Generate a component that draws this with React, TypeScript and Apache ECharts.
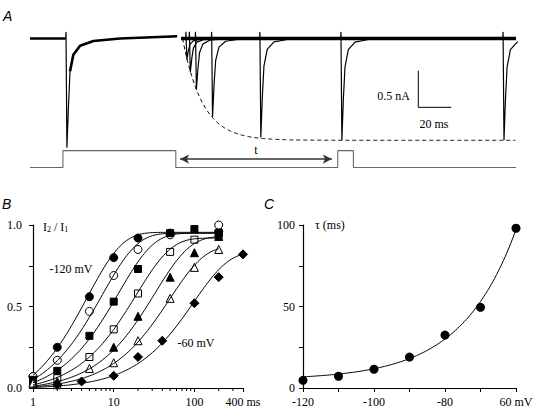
import React, { useEffect, useRef } from 'react';
import * as echarts from 'echarts';

// ---------- Panel A: current traces (ms, nA) and command voltage (ms, mV) ----------
const traceEndMs = 295;
const trace1SpikeMs = 21.9;
const trace1PeakNa = -1.49;
const trace1EndMs = 89.3;
const trace1EndNa = 0.03;
const seg2StartMs = 91.7;
const spikeTimesMs = [94.7, 96.8, 100.5, 110.3, 139.6, 188.8, 287.2];
const spikePeaksNa = [-0.29, -0.46, -0.7, -1.07, -1.35, -1.39, -1.39];
const spikeProfileMs = [0.5, 1.4, 2.4, 4.4, 8.5, 16.6, 32.8];
const spikeProfileFrac = [1, 0.64, 0.3, 0.15, 0.066, 0.023, 0];
const testSpikeProfileFrac = [1, 0.6, 0.28, 0.11, 0.035, 0.01, 0];
const artifactNa = 0.09;
const envelopeT0Ms = 92.6;
const envelopeAmpNa = -1.39;
const envelopeTauMs = 12.1;
const cmdTimesMs = [0, 20, 20, 88.5, 88.5, 186.8, 186.8, 196.3, 196.3, 295];
const cmdLevelsMv = [-100, -100, 0, 0, -100, -100, 0, 0, -100, -100];
const arrowMs = [91.1, 183.2];
const arrowMv = -50;
const scaleBarMs = 235.7;
const scaleBarNa = -0.44;
const scaleBarDtMs = 20;
const scaleBarDiNa = 0.5;

// ---------- Panel B: recovery I2/I1 vs interval ----------
const intervalsMs = [1, 2, 5, 10, 20, 50, 100, 200];
const rel120 = [0.07, 0.25, 0.56, 0.8, 0.92, 0.95, null, 0.96];
const rel110 = [0.07, 0.17, 0.47, 0.69, 0.85, 0.94, null, 1.0];
const rel100 = [0.05, 0.105, 0.32, 0.53, 0.73, 0.95, 0.975, 0.95];
const rel90 = [0.04, 0.06, 0.19, 0.36, 0.58, 0.835, 0.91, 0.94];
const rel80 = [0.03, 0.04, null, 0.25, 0.44, 0.68, 0.83, 0.93];
const rel70 = [0.03, 0.02, 0.12, 0.155, 0.29, 0.55, 0.74, 0.85];
const intervals60Ms = [2, 4, 10, 20, 40, 100, 200, 400];
const rel60 = [0.02, 0.04, 0.075, 0.19, 0.29, 0.52, 0.68, 0.82];
const fitAmplitude = [0.955, 0.95, 0.95, 0.92, 0.93, 0.87, 0.835];
const fitDelayMs = 0.6;
const fitEndMs = [200, 200, 200, 200, 200, 200, 400];
const minorTicksB = [2, 3, 4, 5, 6, 7, 8, 9, 20, 30, 40, 50, 60, 70, 80, 90, 200, 300];

// ---------- Panel C: tau vs voltage ----------
const voltagesMv = [-120, -110, -100, -90, -80, -70, -60];
const tauMs = [4.7, 7.2, 11.5, 19, 32.5, 49.5, 98];
const tauFitBase = 5;
const tauFitAmp = 1.85;
const tauFitSlopeMv = 15.35;

const SERIF = '"Liberation Serif", "Times New Roman", serif';
const richSerif = { t: { fontFamily: SERIF, fontSize: 12, color: '#000' } };
const wrap = (s: string) => (s ? `{t|${s}}` : '');

function spikeTrace(start: number, end: number, t: number, peak: number) {
  const pts: number[][] = [[start, 0], [t - 0.2, 0], [t - 0.05, artifactNa]];
  spikeProfileMs.forEach((dt, i) => pts.push([t + dt, peak * testSpikeProfileFrac[i]]));
  if (end > t + spikeProfileMs[spikeProfileMs.length - 1]) pts.push([end, 0]);
  return pts;
}

function buildOption() {
  const trace1: number[][] = [[0, 0], [trace1SpikeMs - 0.2, 0], [trace1SpikeMs - 0.05, artifactNa]];
  spikeProfileMs.forEach((dt, i) => trace1.push([trace1SpikeMs + dt, trace1PeakNa * spikeProfileFrac[i]]));
  trace1.push([trace1EndMs, trace1EndNa]);
  const trace1Band = trace1.filter((p) => p[0] >= trace1SpikeMs + 2.4);

  const envelope: number[][] = [];
  for (let t = envelopeT0Ms; t <= traceEndMs + 0.01; t += 0.5) {
    envelope.push([t, envelopeAmpNa * (1 - Math.exp(-(t - envelopeT0Ms) / envelopeTauMs))]);
  }

  const axisLine = { show: true, lineStyle: { color: '#000', width: 1.2 } };
  const axisTick = { show: true, inside: false, length: 4, lineStyle: { color: '#000', width: 1 } };
  const labelBase = { color: '#000', fontFamily: SERIF, fontSize: 12, rich: richSerif };

  const series: any[] = [];
  // Panel A traces
  series.push({
    type: 'line', xAxisIndex: 0, yAxisIndex: 0, data: trace1, showSymbol: false, symbol: 'none',
    lineStyle: { color: '#000', width: 1.2 }, silent: true,
  });
  series.push({
    type: 'line', xAxisIndex: 0, yAxisIndex: 0, data: [[0, 0], [trace1SpikeMs - 0.3, 0]], showSymbol: false, symbol: 'none',
    lineStyle: { color: '#000', width: 2.6 }, silent: true,
  });
  series.push({
    type: 'line', xAxisIndex: 0, yAxisIndex: 0, data: trace1Band, showSymbol: false, symbol: 'none',
    lineStyle: { color: '#000', width: 2.6 }, silent: true,
  });
  spikeTimesMs.forEach((t, i) => {
    series.push({
      type: 'line', xAxisIndex: 0, yAxisIndex: 0, data: spikeTrace(seg2StartMs, traceEndMs, t, spikePeaksNa[i]),
      showSymbol: false, symbol: 'none', lineStyle: { color: '#000', width: 1.2 }, silent: true,
    });
  });
  series.push({
    type: 'line', xAxisIndex: 0, yAxisIndex: 0, data: [[seg2StartMs, 0], [traceEndMs, 0]], showSymbol: false, symbol: 'none',
    lineStyle: { color: '#000', width: 3.4 }, silent: true,
  });
  series.push({
    type: 'line', xAxisIndex: 0, yAxisIndex: 0, data: envelope, showSymbol: false, symbol: 'none',
    lineStyle: { color: '#000', width: 1, type: [4, 3] }, silent: true,
  });
  series.push({
    type: 'line', xAxisIndex: 0, yAxisIndex: 0,
    data: [[scaleBarMs, scaleBarNa], [scaleBarMs, scaleBarNa - scaleBarDiNa], [scaleBarMs + scaleBarDtMs, scaleBarNa - scaleBarDiNa]],
    showSymbol: false, symbol: 'none', lineStyle: { color: '#000', width: 1 }, silent: true,
  });
  series.push({
    type: 'line', xAxisIndex: 1, yAxisIndex: 1, data: cmdTimesMs.map((t, i) => [t, cmdLevelsMv[i]]),
    showSymbol: false, symbol: 'none', lineStyle: { color: '#666', width: 1.1 }, silent: true,
    markLine: {
      silent: true, symbol: ['arrow', 'arrow'], symbolSize: [7, 9],
      lineStyle: { color: '#333', width: 1.6, type: 'solid' },
      label: { show: true, position: 'middle', formatter: '{t|t}', rich: richSerif, color: '#000', fontFamily: SERIF, fontSize: 12, distance: 3 },
      data: [[{ coord: [arrowMs[0], arrowMv] }, { coord: [arrowMs[1], arrowMv] }]],
    },
  });

  // Panel B fits
  const relSets = [rel120, rel110, rel100, rel90, rel80, rel70, rel60];
  relSets.forEach((_, i) => {
    const pts: number[][] = [];
    const lgMax = Math.log10(fitEndMs[i]);
    for (let lg = 0; lg <= lgMax + 1e-9; lg += 0.02) {
      const t = Math.pow(10, lg);
      pts.push([t, fitAmplitude[i] * (1 - Math.exp(-(t - fitDelayMs) / tauMs[i]))]);
    }
    const tEnd = fitEndMs[i];
    pts.push([tEnd, fitAmplitude[i] * (1 - Math.exp(-(tEnd - fitDelayMs) / tauMs[i]))]);
    series.push({
      type: 'line', xAxisIndex: 2, yAxisIndex: 2, data: pts, showSymbol: false, symbol: 'none',
      lineStyle: { color: '#000', width: 1 }, silent: true,
    });
  });
  // Panel B markers
  const markerDefs = [
    { set: 0, symbol: 'circle', filled: true, size: 8 },
    { set: 1, symbol: 'circle', filled: false, size: 8 },
    { set: 3, symbol: 'rect', filled: false, size: 7 },
    { set: 2, symbol: 'rect', filled: true, size: 7 },
    { set: 4, symbol: 'triangle', filled: true, size: 8 },
    { set: 5, symbol: 'triangle', filled: false, size: 8 },
    { set: 6, symbol: 'diamond', filled: true, size: 9 },
  ];
  markerDefs.forEach((m) => {
    const xs = m.set === 6 ? intervals60Ms : intervalsMs;
    const data = relSets[m.set]
      .map((v, j) => (v == null ? null : [xs[j], v]))
      .filter((p) => p != null);
    series.push({
      type: 'scatter', xAxisIndex: 2, yAxisIndex: 2, data, symbol: m.symbol, symbolSize: m.size, silent: true,
      itemStyle: { color: m.filled ? '#000' : '#fff', borderColor: '#000', borderWidth: 1, opacity: 1 },
    });
  });
  // Panel B minor log ticks
  series.push({
    type: 'custom', xAxisIndex: 2, yAxisIndex: 2, silent: true, clip: false,
    data: minorTicksB.map((v) => [v, 0]),
    renderItem: (_p: any, api: any) => {
      const c = api.coord([api.value(0), api.value(1)]);
      return { type: 'line', shape: { x1: c[0], y1: c[1], x2: c[0], y2: c[1] + 3 }, style: { stroke: '#000', lineWidth: 1 } };
    },
  });

  // Panel C
  const fitC: number[][] = [];
  for (let v = voltagesMv[0]; v <= voltagesMv[voltagesMv.length - 1] + 1e-9; v += 0.5) {
    fitC.push([v, tauFitBase + tauFitAmp * Math.exp((v - voltagesMv[0]) / tauFitSlopeMv)]);
  }
  series.push({
    type: 'line', xAxisIndex: 3, yAxisIndex: 3, data: fitC, showSymbol: false, symbol: 'none',
    lineStyle: { color: '#000', width: 1 }, silent: true,
  });
  series.push({
    type: 'scatter', xAxisIndex: 3, yAxisIndex: 3, data: voltagesMv.map((v, i) => [v, tauMs[i]]),
    symbol: 'circle', symbolSize: 9, silent: true, itemStyle: { color: '#000', opacity: 1 },
  });

  const gridBase = { show: false, containLabel: false, outerBoundsMode: 'none' };

  return {
    animation: false,
    backgroundColor: '#fff',
    textStyle: { fontFamily: SERIF },
    grid: [
      { ...gridBase, left: 30, top: 16.5, width: 486, height: 157.5 },
      { ...gridBase, left: 30, top: 147.3, width: 486, height: 23.5 },
      { ...gridBase, left: 33, top: 225, width: 210, height: 163 },
      { ...gridBase, left: 303, top: 225, width: 213, height: 163 },
    ],
    xAxis: [
      { type: 'value', gridIndex: 0, min: 0, max: traceEndMs, show: false },
      { type: 'value', gridIndex: 1, min: 0, max: traceEndMs, show: false },
      {
        type: 'log', gridIndex: 2, logBase: 10, min: 1, max: 400,
        axisLine, axisTick, splitLine: { show: false }, minorTick: { show: false },
        axisLabel: {
          ...labelBase, margin: 8, showMaxLabel: true, showMinLabel: true,
          formatter: (v: number) => wrap(v >= 300 ? '400 ms' : String(Math.round(v))),
        },
      },
      {
        type: 'value', gridIndex: 3, min: -120, max: -60, interval: 10,
        axisLine, axisTick, splitLine: { show: false },
        axisLabel: {
          ...labelBase, margin: 8,
          formatter: (v: number) => wrap(v === -60 ? '60 mV' : v === -120 || v === -100 || v === -80 ? String(v) : ''),
        },
      },
    ],
    yAxis: [
      { type: 'value', gridIndex: 0, min: -1.85, max: 0.3, show: false },
      { type: 'value', gridIndex: 1, min: -120, max: 20, show: false },
      {
        type: 'value', gridIndex: 2, min: 0, max: 1, interval: 0.25,
        axisLine, axisTick, splitLine: { show: false },
        axisLabel: {
          ...labelBase, margin: 11,
          formatter: (v: number) => wrap(v === 0 ? '0.0' : v === 0.5 ? '0.5' : v === 1 ? '1.0' : ''),
        },
      },
      {
        type: 'value', gridIndex: 3, min: 0, max: 100, interval: 25,
        axisLine, axisTick, splitLine: { show: false },
        axisLabel: { ...labelBase, margin: 8, formatter: (v: number) => wrap(v % 50 === 0 ? String(v) : '') },
      },
    ],
    graphic: [
      { type: 'text', left: 3, top: 9, style: { text: 'A', font: 'italic 14px "Liberation Sans"', fill: '#000' } },
      { type: 'text', left: 2, top: 197, style: { text: 'B', font: 'italic 14px "Liberation Sans"', fill: '#000' } },
      { type: 'text', left: 264, top: 197, style: { text: 'C', font: 'italic 14px "Liberation Sans"', fill: '#000' } },
      { type: 'text', x: 410, y: 96, style: { text: '0.5 nA', fill: '#000', font: `12px ${SERIF}`, align: 'right', verticalAlign: 'middle' } },
      { type: 'text', x: 434, y: 124, style: { text: '20 ms', fill: '#000', font: `12px ${SERIF}`, align: 'center', verticalAlign: 'middle' } },
      {
        type: 'text', x: 43, y: 226,
        style: {
          text: '{i|I}{s|2}{i| / I}{s|1}', fill: '#000', verticalAlign: 'middle', align: 'left',
          rich: {
            i: { fontFamily: SERIF, fontSize: 12, lineHeight: 14, verticalAlign: 'bottom' },
            s: { fontFamily: SERIF, fontSize: 8, lineHeight: 14, verticalAlign: 'bottom' },
          },
        },
      },
      { type: 'text', x: 71, y: 269, style: { text: '-120 mV', fill: '#000', font: `12px ${SERIF}`, align: 'center', verticalAlign: 'middle' } },
      { type: 'text', x: 196, y: 343, style: { text: '-60 mV', fill: '#000', font: `12px ${SERIF}`, align: 'center', verticalAlign: 'middle' } },
      { type: 'text', x: 315, y: 225, style: { text: 'τ (ms)', fill: '#000', font: `12px ${SERIF}`, align: 'left', verticalAlign: 'middle' } },
    ],
    series,
  };
}

export default function App() {
  const ref = useRef<HTMLDivElement>(null);
  useEffect(() => {
    document.body.style.margin = '0';
    const chart = echarts.init(ref.current as HTMLDivElement, null, { renderer: 'svg' });
    chart.setOption(buildOption() as any);
    return () => chart.dispose();
  }, []);
  return <div ref={ref} style={{ width: 546, height: 416 }} />;
}
